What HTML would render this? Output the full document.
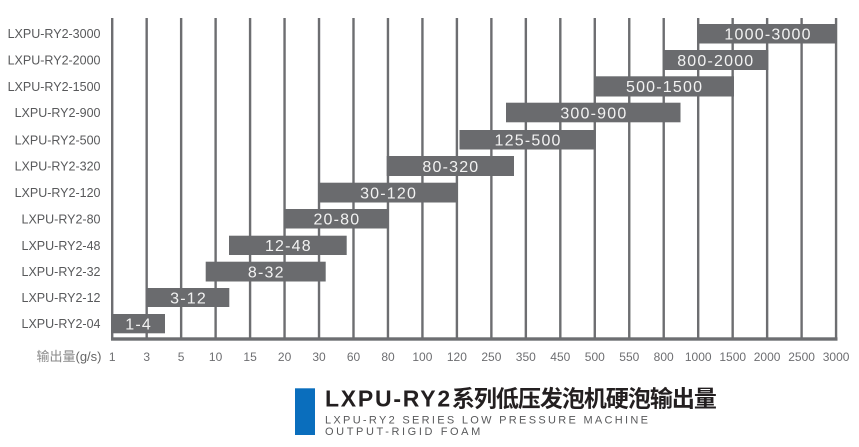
<!DOCTYPE html>
<html><head><meta charset="utf-8"><style>
html,body{margin:0;padding:0;background:#fff;}
svg{display:block;}
</style></head><body>
<svg width="859" height="447" viewBox="0 0 859 447" xmlns="http://www.w3.org/2000/svg">
<rect width="859" height="447" fill="#fff"/>
<g fill="#6d6e71">
<rect x="111" y="18" width="2.4" height="322"/>
<rect x="145.47" y="18" width="2.4" height="322"/>
<rect x="179.94" y="18" width="2.4" height="322"/>
<rect x="214.41" y="18" width="2.4" height="322"/>
<rect x="248.88" y="18" width="2.4" height="322"/>
<rect x="283.35" y="18" width="2.4" height="322"/>
<rect x="317.82" y="18" width="2.4" height="322"/>
<rect x="352.29" y="18" width="2.4" height="322"/>
<rect x="386.76" y="18" width="2.4" height="322"/>
<rect x="421.23" y="18" width="2.4" height="322"/>
<rect x="455.7" y="18" width="2.4" height="322"/>
<rect x="490.17" y="18" width="2.4" height="322"/>
<rect x="524.64" y="18" width="2.4" height="322"/>
<rect x="559.11" y="18" width="2.4" height="322"/>
<rect x="593.58" y="18" width="2.4" height="322"/>
<rect x="628.05" y="18" width="2.4" height="322"/>
<rect x="662.52" y="18" width="2.4" height="322"/>
<rect x="696.99" y="18" width="2.4" height="322"/>
<rect x="731.46" y="18" width="2.4" height="322"/>
<rect x="765.93" y="18" width="2.4" height="322"/>
<rect x="800.4" y="18" width="2.4" height="322"/>
<rect x="834.87" y="18" width="2.4" height="322"/>
<rect x="111" y="337.3" width="726.5" height="3.4"/>
</g>
<g fill="#6a6b6e">
<rect x="698.3" y="24" width="138.4" height="19.5"/>
<rect x="663.3" y="50" width="105" height="20"/>
<rect x="594" y="76.3" width="140" height="20.2"/>
<rect x="506" y="102.7" width="174.5" height="19.6"/>
<rect x="459.5" y="130" width="136" height="19.5"/>
<rect x="386.7" y="156" width="127.3" height="20"/>
<rect x="318.3" y="182.7" width="139.4" height="19.8"/>
<rect x="284.3" y="209" width="104" height="19.5"/>
<rect x="229" y="235.7" width="117.7" height="19.3"/>
<rect x="205.7" y="261.7" width="120" height="19.8"/>
<rect x="146.7" y="288" width="82.6" height="19"/>
<rect x="111" y="314" width="54" height="19.3"/>
</g>
<g font-family="'Liberation Sans', Arial, sans-serif" font-size="16" fill="#f2f2f2" text-anchor="middle" letter-spacing="1.2">
<text x="768.1" y="39.6">1000-3000</text>
<text x="715.8" y="65.8">800-2000</text>
<text x="664.6" y="92.2">500-1500</text>
<text x="593.9" y="118.3">300-900</text>
<text x="528.1" y="145.6">125-500</text>
<text x="450.9" y="171.8">80-320</text>
<text x="388.6" y="198.4">30-120</text>
<text x="336.9" y="224.6">20-80</text>
<text x="288.4" y="251.2">12-48</text>
<text x="266.3" y="277.4">8-32</text>
<text x="188.6" y="303.3">3-12</text>
<text x="138.6" y="329.4">1-4</text>
</g>
<g font-family="'Liberation Sans', Arial, sans-serif" font-size="12.5" fill="#58595b" text-anchor="end">
<text x="100.5" y="38.2">LXPU-RY2-3000</text>
<text x="100.5" y="64.5">LXPU-RY2-2000</text>
<text x="100.5" y="90.9">LXPU-RY2-1500</text>
<text x="100.5" y="117">LXPU-RY2-900</text>
<text x="100.5" y="144.3">LXPU-RY2-500</text>
<text x="100.5" y="170.5">LXPU-RY2-320</text>
<text x="100.5" y="197.1">LXPU-RY2-120</text>
<text x="100.5" y="223.3">LXPU-RY2-80</text>
<text x="100.5" y="249.9">LXPU-RY2-48</text>
<text x="100.5" y="276.1">LXPU-RY2-32</text>
<text x="100.5" y="302">LXPU-RY2-12</text>
<text x="100.5" y="328.2">LXPU-RY2-04</text>
</g>
<g font-family="'Liberation Sans', Arial, sans-serif" font-size="12" fill="#6d6e71" text-anchor="middle">
<text x="112.2" y="361">1</text>
<text x="146.7" y="361">3</text>
<text x="181.1" y="361">5</text>
<text x="215.6" y="361">10</text>
<text x="250.1" y="361">15</text>
<text x="284.6" y="361">20</text>
<text x="319" y="361">30</text>
<text x="353.5" y="361">60</text>
<text x="388" y="361">80</text>
<text x="422.4" y="361">100</text>
<text x="456.9" y="361">120</text>
<text x="491.4" y="361">250</text>
<text x="525.8" y="361">350</text>
<text x="560.3" y="361">450</text>
<text x="594.8" y="361">500</text>
<text x="629.3" y="361">550</text>
<text x="663.7" y="361">800</text>
<text x="698.2" y="361">1000</text>
<text x="732.7" y="361">1500</text>
<text x="767.1" y="361">2000</text>
<text x="801.6" y="361">2500</text>
<text x="836.1" y="361">3000</text>
</g>
<text x="101.5" y="361" text-anchor="end" font-family="'Liberation Sans', 'Noto Sans CJK SC', sans-serif" font-size="13"><tspan fill="#8a8a8a">输出量</tspan><tspan fill="#666">(g/s)</tspan></text>
<rect x="295" y="388.3" width="20" height="46.7" fill="#0a6ebd"/>
<text x="325" y="406.7" font-family="'Liberation Sans', 'Noto Sans CJK SC', sans-serif" font-size="23" font-weight="bold" fill="#231f20"><tspan letter-spacing="1.75">LXPU-RY2</tspan><tspan letter-spacing="-1">系列低压发泡机硬泡输出量</tspan></text>
<text x="325" y="423.3" font-family="'Liberation Sans', Arial, sans-serif" font-size="11" fill="#58595b" letter-spacing="2.3">LXPU-RY2 SERIES LOW PRESSURE MACHINE</text>
<text x="325" y="435" font-family="'Liberation Sans', Arial, sans-serif" font-size="11" fill="#58595b" letter-spacing="2.6">OUTPUT-RIGID FOAM</text>
</svg>
</body></html>
